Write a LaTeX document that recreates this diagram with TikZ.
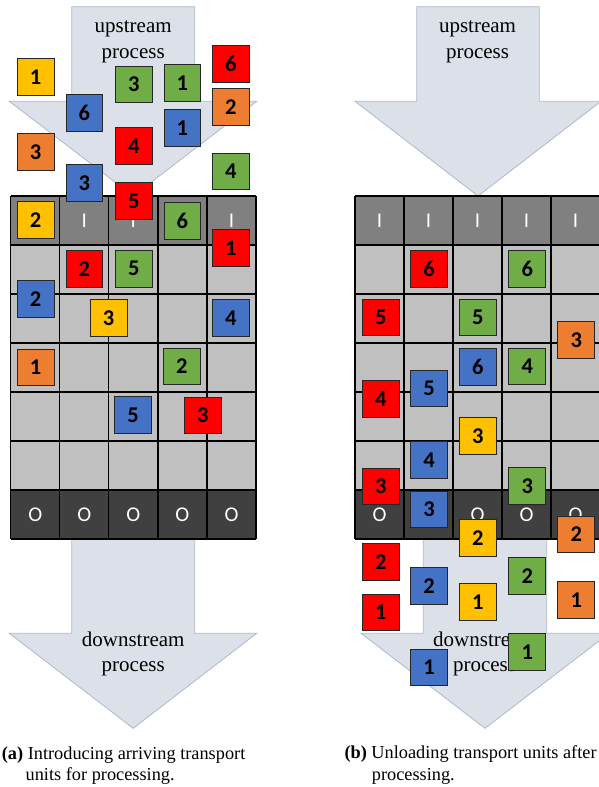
\documentclass[tikz,border=0pt]{standalone}
\usepackage{fontspec}
\setmainfont{Liberation Serif}
\newfontfamily\calfont{Carlito}
\definecolor{uyel}{HTML}{FFC000}
\definecolor{ublu}{HTML}{4472C4}
\definecolor{ugrn}{HTML}{70AD47}
\definecolor{ured}{HTML}{FF0000}
\definecolor{uorg}{HTML}{ED7D31}
\definecolor{arrfill}{HTML}{DCE1E9}
\definecolor{arrline}{HTML}{ADB9CA}
\definecolor{rowin}{HTML}{808080}
\definecolor{rowmid}{HTML}{C0C0C0}
\definecolor{rowout}{HTML}{404040}
\tikzset{
  unitbox/.style={draw=black!85, line width=0.9pt, minimum size=36.7pt, inner sep=0pt,
    font=\calfont\bfseries\fontsize{22.5}{22.5}\selectfont, text=black},
  uy/.style={unitbox, fill=uyel},
  ub/.style={unitbox, fill=ublu},
  ug/.style={unitbox, fill=ugrn},
  ur/.style={unitbox, fill=ured},
  uo/.style={unitbox, fill=uorg},
  bigarrow/.style={fill=arrfill, draw=arrline, line width=0.8pt},
  proctext/.style={font=\fontsize{21}{26}\selectfont, anchor=base, inner sep=0pt},
  celltxt/.style={text=white, font=\calfont\fontsize{21}{21}\selectfont, inner sep=0pt},
  capt/.style={font=\fontsize{18.3}{21}\selectfont, anchor=base west, inner sep=0pt},
  gridline/.style={line width=1.3pt, draw=black}
}
\begin{document}
\begin{tikzpicture}[x=1pt,y=-1pt]
\useasboundingbox (0,0) rectangle (599,787);
% ---------- arrows ----------
\draw[bigarrow] (71.7,6.7) -- (194.7,6.7) -- (194.7,101.3) -- (256.7,101.3) -- (133.2,196) -- (9.3,101.3) -- (71.7,101.3) -- cycle;
\draw[bigarrow] (71.7,539) -- (194.7,539) -- (194.7,633.3) -- (256.7,633.3) -- (133.2,728.3) -- (9.3,633.3) -- (71.7,633.3) -- cycle;
\draw[bigarrow] (416.7,6.7) -- (539.3,6.7) -- (539.3,101.3) -- (601,101.3) -- (478,196) -- (355,101.3) -- (416.7,101.3) -- cycle;
\draw[bigarrow] (423.3,539) -- (546.7,539) -- (546.7,633.3) -- (609,633.3) -- (485,728.3) -- (361,633.3) -- (423.3,633.3) -- cycle;
% ---------- arrow texts ----------
\node[proctext] (upA1) at (133.2,32.3) {upstream};
\node[proctext] (upA2) at (133.2,58.8) {process};
\node[proctext] (upB1) at (477.5,32.3) {upstream};
\node[proctext] (upB2) at (477.5,58.8) {process};
\node[proctext] (dnA1) at (133.2,646) {downstream};
\node[proctext] (dnA2) at (133.2,671.7) {process};
\node[proctext] (dnB1) at (484.5,646) {downstream};
\node[proctext] (dnB2) at (484.5,671.7) {process};
% ---------- grids ----------
\foreach \gx/\gw/\gp in {10.7/49.06/A, 355/49/B} {
  \fill[rowin]  (\gx,196) rectangle ({\gx+5*\gw},245);
  \fill[rowmid] (\gx,245) rectangle ({\gx+5*\gw},490);
  \fill[rowout] (\gx,490) rectangle ({\gx+5*\gw},539);
  \foreach \k in {0,...,5} \draw[gridline] ({\gx+\k*\gw},196) -- ({\gx+\k*\gw},539);
  \foreach \r in {0,...,7} \draw[gridline] (\gx,{196+\r*49}) -- ({\gx+5*\gw},{196+\r*49});
  \foreach \k in {0,...,4} {
    \node[celltxt] (in\gp\k) at ({\gx+(\k+0.5)*\gw},220.5) {I};
    \node[celltxt] (out\gp\k) at ({\gx+(\k+0.5)*\gw},515) {O};
  }
}
% ---------- units, panel (a) ----------
\node[uy] (aY1) at (35.7,77) {1};
\node[ub] (aB6) at (84.3,113) {6};
\node[ug] (aG3) at (133.8,84.5) {3};
\node[ug] (aG1) at (182.3,82.7) {1};
\node[ur] (aR6) at (230.8,63.7) {6};
\node[uo] (aO2) at (230.8,106.7) {2};
\node[ub] (aB1) at (182.3,127.7) {1};
\node[ur] (aR4) at (133.8,146) {4};
\node[uo] (aO3) at (35.7,152.2) {3};
\node[ug] (aG4) at (230.8,171.3) {4};
\node[ub] (aB3) at (84.3,183) {3};
\node[ur] (aR5) at (133.8,200.8) {5};
\node[uy] (aY2) at (35.7,219.7) {2};
\node[ug] (aG6) at (182.3,220.7) {6};
\node[ur] (aR1) at (230.8,248) {1};
\node[ur] (aR2) at (84.3,268.7) {2};
\node[ug] (aG5) at (133.8,268.7) {5};
\node[ub] (aB2) at (35.7,298.7) {2};
\node[uy] (aY3) at (108.7,317.7) {3};
\node[ub] (aB4) at (230.8,317.7) {4};
\node[uo] (aO1) at (35.7,367.3) {1};
\node[ug] (aG2) at (181.8,366.3) {2};
\node[ub] (aB5) at (133.2,414.8) {5};
\node[ur] (aR3) at (202.7,415.3) {3};
% ---------- units, panel (b) ----------
\node[ur] (bR6) at (429,269) {6};
\node[ug] (bG6) at (527.2,269) {6};
\node[ur] (bR5) at (380.8,317.3) {5};
\node[ug] (bG5) at (477.8,317.3) {5};
\node[uo] (bO3) at (576.2,340) {3};
\node[ub] (bB6) at (477.8,366.7) {6};
\node[ug] (bG4) at (527.2,366.3) {4};
\node[ub] (bB5) at (429,388.3) {5};
\node[ur] (bR4) at (380.8,398.7) {4};
\node[uy] (bY3) at (477.8,436) {3};
\node[ub] (bB4) at (429,460) {4};
\node[ug] (bG3) at (527.2,485.7) {3};
\node[ur] (bR3) at (380.8,486.3) {3};
\node[ub] (bB3) at (429,509.3) {3};
\node[uy] (bY2) at (477.8,537.7) {2};
\node[uo] (bO2) at (576.2,534.3) {2};
\node[ur] (bR2) at (380.8,562.2) {2};
\node[ub] (bB2) at (429,585.7) {2};
\node[ug] (bG2) at (527.2,576) {2};
\node[uy] (bY1) at (477.8,601.7) {1};
\node[uo] (bO1) at (576.2,599.7) {1};
\node[ur] (bR1) at (380.8,612.3) {1};
\node[ug] (bG1) at (527.2,652) {1};
\node[ub] (bB1) at (429,667.3) {1};
% ---------- captions ----------
\node[capt] (capA1) at (1.7,759) {\textbf{(a)} Introducing arriving transport};
\node[capt] (capA2) at (25.5,780) {units for processing.};
\node[capt] (capB1) at (344.3,758.5) {\textbf{(b)} Unloading transport units after};
\node[capt] (capB2) at (371.7,780) {processing.};
\end{tikzpicture}
\end{document}
